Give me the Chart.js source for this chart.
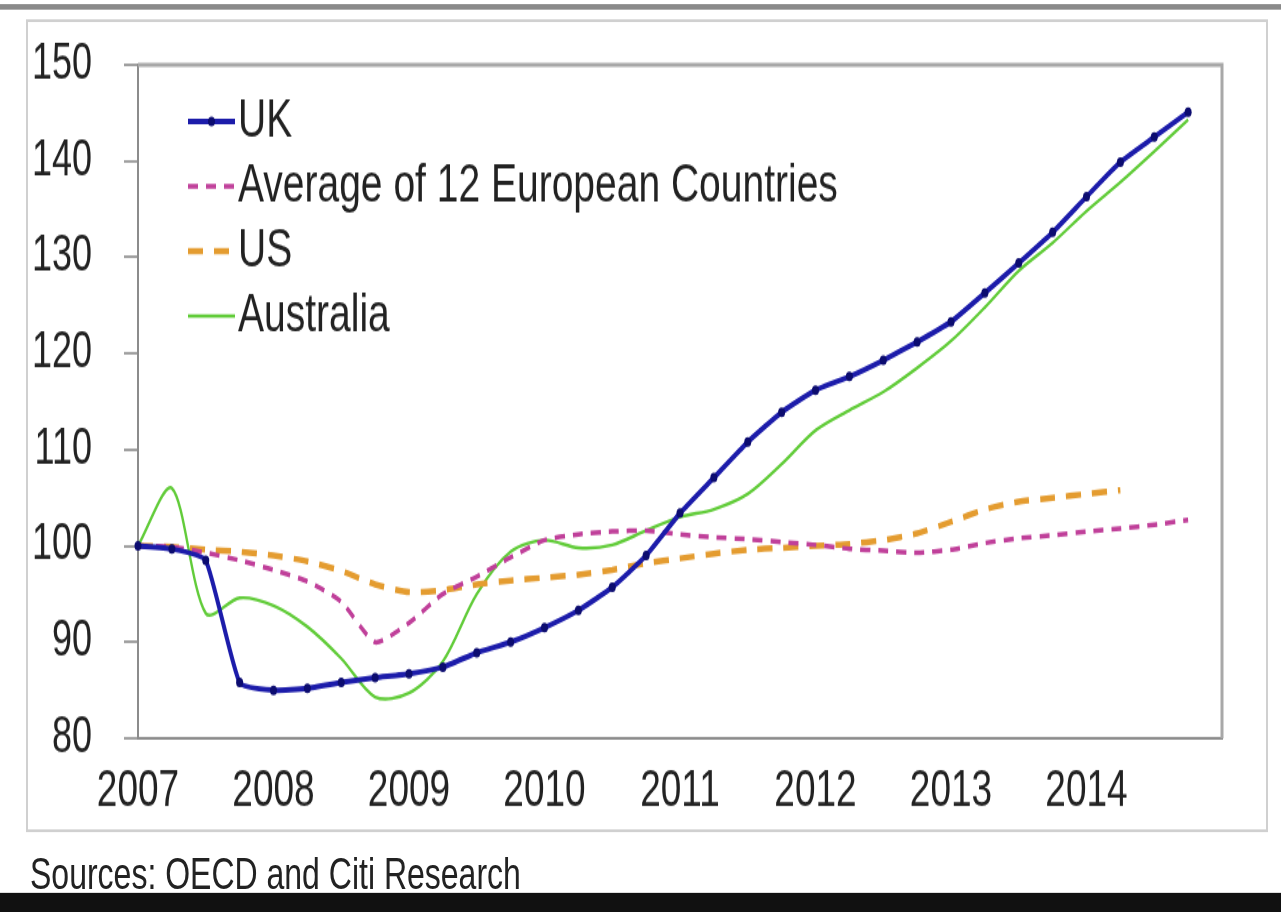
<!DOCTYPE html>
<html>
<head>
<meta charset="utf-8">
<script src="https://cdn.jsdelivr.net/npm/chart.js@4.4.1/dist/chart.umd.min.js"></script>
<style>
  html, body { margin: 0; padding: 0; background: #fff; }
  body { width: 1281px; height: 912px; position: relative; overflow: hidden; font-family: "Liberation Sans", Arial, sans-serif; }
  /* the whole sheet is laid out short and then stretched tall */
  #page { position: absolute; left: 0; top: 0; width: 1281px; height: 661px; transform: scaleY(1.38); transform-origin: 0 0; }
  #topbar { position: absolute; left: 0; top: 3px; width: 1281px; height: 4px; background: #8a8a8a; }
  #frame { position: absolute; left: 26px; top: 13.8px; width: 1242px; height: 589px; border: 2px solid #d0d0d0; box-sizing: border-box; }
  #chart { position: absolute; left: 27px; top: 13.8px; }
  #source { position: absolute; left: 30px; top: 617px; font-size: 32px; line-height: 32px; color: #222; white-space: nowrap; }
  #bottombar { position: absolute; left: 0; top: 647px; width: 1281px; height: 14px; background: #111; }
</style>
</head>
<body>
<div id="page">
  <div id="topbar"></div>
  <div id="frame"></div>
  <canvas id="chart" width="1241" height="589"></canvas>
  <div id="source">Sources: OECD and Citi Research</div>
  <div id="bottombar"></div>
</div>
<script>
const quarters = [
  '2007Q1','2007Q2','2007Q3','2007Q4','2008Q1','2008Q2','2008Q3','2008Q4',
  '2009Q1','2009Q2','2009Q3','2009Q4','2010Q1','2010Q2','2010Q3','2010Q4',
  '2011Q1','2011Q2','2011Q3','2011Q4','2012Q1','2012Q2','2012Q3','2012Q4',
  '2013Q1','2013Q2','2013Q3','2013Q4','2014Q1','2014Q2','2014Q3','2014Q4',
  '2015Q1'
];

const ukValues = [
  100, 99.7, 98.5, 85.8, 85.0, 85.2, 85.8, 86.3,
  86.7, 87.4, 88.9, 90.0, 91.5, 93.3, 95.7, 99.0,
  103.4, 107.1, 110.8, 113.9, 116.2, 117.6, 119.3, 121.2,
  123.3, 126.3, 129.4, 132.6, 136.3, 139.9, 142.5, 145.1
];

const europeValues = [
  100, 99.9, 99.3, 98.5, 97.5, 96.3, 94.2, 90.0,
  92.0, 95.0, 96.8, 98.8, 100.6, 101.2, 101.5, 101.6,
  101.2, 100.9, 100.7, 100.4, 100.1, 99.7, 99.5, 99.3,
  99.6, 100.3, 100.8, 101.1, 101.5, 101.8, 102.2, 102.7
];

const usValues = [
  100, 99.9, 99.6, 99.4, 99.0, 98.4, 97.4, 96.0,
  95.2, 95.4, 96.0, 96.4, 96.7, 97.0, 97.5, 98.2,
  98.7, 99.2, 99.6, 99.8, 100.0, 100.2, 100.6, 101.3,
  102.5, 103.8, 104.6, 105.0, 105.4, 105.8
];

const australiaValues = [
  100, 106.0, 93.0, 94.6, 93.8, 91.6, 88.3, 84.3,
  84.7, 88.0, 95.0, 99.4, 100.6, 99.8, 100.1, 101.6,
  103.0, 103.8, 105.4, 108.5, 112.0, 114.1, 116.0, 118.5,
  121.3, 124.8, 128.6, 131.5, 134.8, 137.8, 141.0, 144.3
];

const yTicks = { min: 80, max: 150, step: 10 };

const FONT = '"Liberation Sans", Arial, sans-serif';

// legend drawn inside the plot, top-left, one entry per row
const insideLegend = {
  id: 'insideLegend',
  afterDatasetsDraw(chart) {
    const { ctx, chartArea } = chart;
    const x0 = chartArea.left + 50;
    const x1 = chartArea.left + 97;
    ctx.save();
    ctx.font = '39px ' + FONT;
    ctx.textBaseline = 'middle';
    chart.data.datasets.forEach((ds, i) => {
      const y = chartArea.top + 41 + i * 47;
      ctx.strokeStyle = ds.borderColor;
      ctx.lineWidth = ds.borderWidth;
      ctx.setLineDash(ds.borderDash || []);
      ctx.beginPath();
      ctx.moveTo(x0, y);
      ctx.lineTo(x1, y);
      ctx.stroke();
      ctx.setLineDash([]);
      if (ds.pointRadius) {
        ctx.fillStyle = ds.pointBackgroundColor;
        ctx.beginPath();
        ctx.arc((x0 + x1) / 2, y, ds.pointRadius, 0, Math.PI * 2);
        ctx.fill();
      }
      ctx.fillStyle = '#222';
      ctx.fillText(ds.label, x1 + 3, y);
    });
    ctx.restore();
  }
};

// light frame on the top and right of the plot area
const plotFrame = {
  id: 'plotFrame',
  beforeDatasetsDraw(chart) {
    const { ctx, chartArea: a } = chart;
    ctx.save();
    ctx.strokeStyle = '#a8a8a8';
    ctx.lineWidth = 3;
    ctx.beginPath();
    ctx.moveTo(a.left, a.top);
    ctx.lineTo(a.right, a.top);
    ctx.lineTo(a.right, a.bottom);
    ctx.stroke();
    ctx.restore();
  }
};

new Chart(document.getElementById('chart'), {
  type: 'line',
  data: {
    labels: quarters,
    datasets: [
      {
        label: 'UK',
        data: ukValues,
        borderColor: '#1c1caa',
        borderWidth: 4,
        pointRadius: 3.5,
        pointBackgroundColor: '#0c0c70',
        pointBorderWidth: 0,
        tension: 0.15
      },
      {
        label: 'Average of 12 European Countries',
        data: europeValues,
        borderColor: '#c0409a',
        borderWidth: 3.5,
        borderDash: [10, 8],
        pointRadius: 0,
        tension: 0.2
      },
      {
        label: 'US',
        data: usValues,
        borderColor: '#e49c30',
        borderWidth: 4.5,
        borderDash: [15, 11],
        pointRadius: 0,
        tension: 0.2
      },
      {
        label: 'Australia',
        data: australiaValues,
        borderColor: '#62cc3a',
        borderWidth: 2.4,
        pointRadius: 0,
        tension: 0.3
      }
    ]
  },
  options: {
    responsive: false,
    animation: false,
    layout: { padding: { top: 33, right: 46, bottom: 0, left: 0 } },
    plugins: {
      legend: { display: false },
      tooltip: { enabled: false }
    },
    scales: {
      x: {
        afterFit(scale) { scale.height = 68; },
        grid: { display: false, drawTicks: false },
        border: { display: true, color: '#8c8c8c', width: 2 },
        ticks: {
          autoSkip: false,
          maxRotation: 0,
          padding: 17,
          color: '#222',
          font: { family: FONT, size: 37 },
          callback(value) {
            const q = quarters[value];
            return q.endsWith('Q1') && q !== '2015Q1' ? q.slice(0, 4) : '';
          }
        }
      },
      y: {
        min: yTicks.min,
        max: yTicks.max,
        afterFit(scale) {
          scale.width = 111;
          // labels sit beside the ticks, they need no room above or below the plot
          scale.paddingTop = 0;
          scale.paddingBottom = 0;
        },
        grid: { drawOnChartArea: false, drawTicks: true, tickLength: 14, color: '#a0a0a0', lineWidth: 2 },
        border: { display: true, color: '#8c8c8c', width: 2 },
        ticks: {
          stepSize: yTicks.step,
          padding: 32,
          color: '#222',
          font: { family: FONT, size: 36 }
        }
      }
    }
  },
  plugins: [insideLegend, plotFrame]
});
</script>
</body>
</html>
